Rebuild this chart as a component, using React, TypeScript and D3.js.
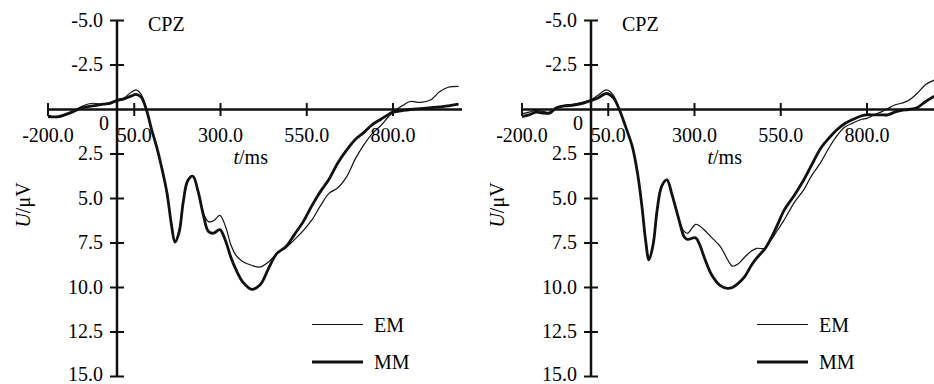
import * as d3 from 'd3';
import React, { useEffect, useRef } from 'react';

// time axis (ms) and amplitude values (µV, positive down)
const leftTimes = [-200, -170, -130, -100, -70, -40, -20, 0, 20, 40, 55, 70, 85, 100, 115, 130, 145, 158, 168, 180, 192, 205, 220, 235, 250, 265, 280, 298, 315, 330, 345, 365, 390, 415, 440, 463, 490, 515, 540, 565, 590, 615, 640, 665, 690, 715, 740, 765, 785, 800, 830, 850, 880, 910, 935, 960, 990];
const leftEM = [0.3, 0.45, 0.1, -0.2, -0.35, -0.3, -0.4, -0.55, -0.65, -0.95, -1.1, -0.85, 0, 1.1, 2.1, 3.3, 4.7, 6.5, 7.4, 6.8, 5.2, 4.0, 3.75, 4.6, 5.8, 6.3, 6.25, 5.95, 6.6, 7.6, 8.2, 8.55, 8.75, 8.85, 8.55, 8.1, 7.75, 7.3, 6.8, 6.2, 5.4, 4.7, 4.4, 3.8, 2.8, 2.0, 1.35, 0.9, 0.45, 0.15, -0.25, -0.45, -0.4, -0.55, -1.0, -1.25, -1.3];
const leftMM = [0.4, 0.4, 0.15, -0.1, -0.2, -0.3, -0.35, -0.5, -0.6, -0.75, -0.85, -0.7, 0, 1.1, 2.1, 3.3, 4.7, 6.5, 7.45, 6.9, 5.2, 4.0, 3.75, 4.6, 5.9, 6.85, 6.95, 6.75, 7.4, 8.3, 9.0, 9.7, 10.1, 9.85, 8.9, 8.1, 7.7, 7.0, 6.3, 5.4, 4.6, 3.9, 3.0, 2.3, 1.7, 1.3, 0.85, 0.55, 0.3, 0.15, 0.05, 0, -0.05, -0.1, -0.15, -0.2, -0.3];

const rightTimes = [-200, -180, -160, -140, -120, -100, -75, -50, -25, 0, 20, 45, 65, 82, 100, 120, 135, 148, 158, 168, 180, 192, 205, 220, 235, 255, 270, 280, 303, 315, 330, 350, 375, 395, 410, 425, 445, 465, 480, 505, 520, 540, 560, 590, 617, 640, 665, 690, 712, 735, 760, 785, 800, 820, 840, 860, 880, 900, 920, 945, 970, 995];
const rightEM = [0.25, 0.15, 0.05, 0.1, 0.15, -0.1, -0.25, -0.3, -0.4, -0.55, -0.8, -1.1, -0.8, 0, 0.95, 2.1, 3.6, 5.5, 7.3, 8.45, 7.6, 5.6, 4.3, 3.95, 4.8, 6.2, 6.85, 6.95, 6.45, 6.55, 6.8, 7.2, 7.7, 8.4, 8.8, 8.7, 8.3, 7.95, 7.8, 7.8, 7.4, 6.8, 6.2, 5.2, 4.5, 3.7, 3.0, 2.15, 1.5, 1.0, 0.75, 0.55, 0.5, 0.3, 0.15, -0.05, -0.25, -0.35, -0.5, -0.9, -1.4, -1.65];
const rightMM = [0.4, 0.3, 0.15, 0.2, 0.2, -0.1, -0.2, -0.25, -0.35, -0.5, -0.65, -0.9, -0.65, 0, 0.95, 2.1, 3.6, 5.5, 7.3, 8.45, 7.6, 5.6, 4.3, 3.95, 4.8, 6.2, 7.15, 7.3, 7.2, 7.6, 8.4, 9.3, 9.9, 10.05, 10.0, 9.8, 9.4, 8.75, 8.35, 7.8, 7.3, 6.5, 5.65, 4.8, 3.95, 3.1, 2.2, 1.6, 1.15, 0.8, 0.55, 0.35, 0.3, 0.3, 0.3, 0.3, 0.15, 0.05, 0, -0.1, -0.45, -0.75];

const xTicks = [-200, 50, 300, 550, 800];
const yTicks = [-5, -2.5, 2.5, 5, 7.5, 10, 12.5, 15];
const seriesNames = ['EM', 'MM'];
const channel = 'CPZ';

const width = 934;
const height = 384;
const font = '"Liberation Serif", "Times New Roman", serif';

interface PanelConf {
  left: number;
  right: number;
  legendX: number;
  times: number[];
  em: number[];
  mm: number[];
}

const panels: PanelConf[] = [
  { left: 48, right: 462, legendX: 312, times: leftTimes, em: leftEM, mm: leftMM },
  { left: 522, right: 936, legendX: 757, times: rightTimes, em: rightEM, mm: rightMM },
];

// plain hyphen for negatives, like the printed figure
const fmt = (v: number) => d3.format('.1f')(v).replace('\u2212', '-');

const App: React.FC = () => {
  const ref = useRef<SVGSVGElement>(null);

  useEffect(() => {
    if (!ref.current) return;
    const svg = d3.select(ref.current);
    svg.selectAll('*').remove();

    const y = d3.scaleLinear().domain([-5, 15]).range([20.5, 376.5]);

    panels.forEach((p) => {
      const x = d3.scaleLinear().domain([-200, 1000]).range([p.left, p.right]);
      const g = svg.append('g').style('font-family', font).style('font-size', '20px');
      const ax = x(0);
      const zy = y(0);

      // curves
      const line = d3
        .line<[number, number]>()
        .x((d) => x(d[0]))
        .y((d) => y(d[1]))
        .curve(d3.curveCatmullRom.alpha(0.5));
      const emPts = p.times.map((t, i) => [t, p.em[i]] as [number, number]);
      const mmPts = p.times.map((t, i) => [t, p.mm[i]] as [number, number]);
      g.append('path').attr('d', line(emPts)).attr('fill', 'none').attr('stroke', '#111').attr('stroke-width', 1.2);
      g.append('path').attr('d', line(mmPts)).attr('fill', 'none').attr('stroke', '#111').attr('stroke-width', 2.8);

      // x axis
      g.append('line')
        .attr('x1', p.left).attr('x2', p.right).attr('y1', zy).attr('y2', zy)
        .attr('stroke', '#111').attr('stroke-width', 2.5);
      g.selectAll('.xt')
        .data(xTicks)
        .join('line')
        .attr('x1', (d) => x(d)).attr('x2', (d) => x(d))
        .attr('y1', zy - 6.5).attr('y2', zy + 6.5)
        .attr('stroke', '#111').attr('stroke-width', 2);
      g.selectAll('.xl')
        .data(xTicks)
        .join('text')
        .attr('x', (d) => x(d))
        .attr('y', 142)
        .attr('text-anchor', 'middle')
        .text((d) => fmt(d));
      g.append('text').attr('x', ax - 13).attr('y', 130).attr('text-anchor', 'middle').text('0');
      const tl = g.append('text').attr('x', x(300) + 13).attr('y', 164);
      tl.append('tspan').attr('font-style', 'italic').text('t');
      tl.append('tspan').text('/ms');

      // y axis
      g.append('line')
        .attr('x1', ax).attr('x2', ax).attr('y1', y(-5)).attr('y2', y(15))
        .attr('stroke', '#111').attr('stroke-width', 2.5);
      g.selectAll('.yt')
        .data(yTicks)
        .join('line')
        .attr('x1', ax - 7).attr('x2', ax + 7)
        .attr('y1', (d) => y(d)).attr('y2', (d) => y(d))
        .attr('stroke', '#111').attr('stroke-width', 2);
      g.selectAll('.yl')
        .data(yTicks)
        .join('text')
        .attr('x', ax - 14)
        .attr('y', (d) => Math.min(y(d), 375))
        .attr('dy', '0.3em')
        .attr('text-anchor', 'end')
        .text((d) => fmt(d));
      const yl = g
        .append('text')
        .attr('transform', `translate(${ax - 94},205) rotate(-90)`)
        .attr('text-anchor', 'middle')
        .attr('dy', '0.35em');
      yl.append('tspan').attr('font-style', 'italic').text('U');
      yl.append('tspan').text('/μV');

      g.append('text').attr('x', ax + 31).attr('y', 31).text(channel);

      // legend
      seriesNames.forEach((name, i) => {
        const ly = 324.5 + i * 37.5;
        g.append('line')
          .attr('x1', p.legendX).attr('x2', p.legendX + 51)
          .attr('y1', ly).attr('y2', ly)
          .attr('stroke', '#111').attr('stroke-width', i === 0 ? 1.2 : 2.8);
        g.append('text').attr('x', p.legendX + 62).attr('y', ly).attr('dy', '0.35em').text(name);
      });
    });
  }, []);

  return (
    <svg
      ref={ref}
      width={width}
      height={height}
      viewBox={`0 0 ${width} ${height}`}
      style={{ position: 'absolute', left: 0, top: 0, background: '#fff' }}
    ></svg>
  );
};

export default App;
